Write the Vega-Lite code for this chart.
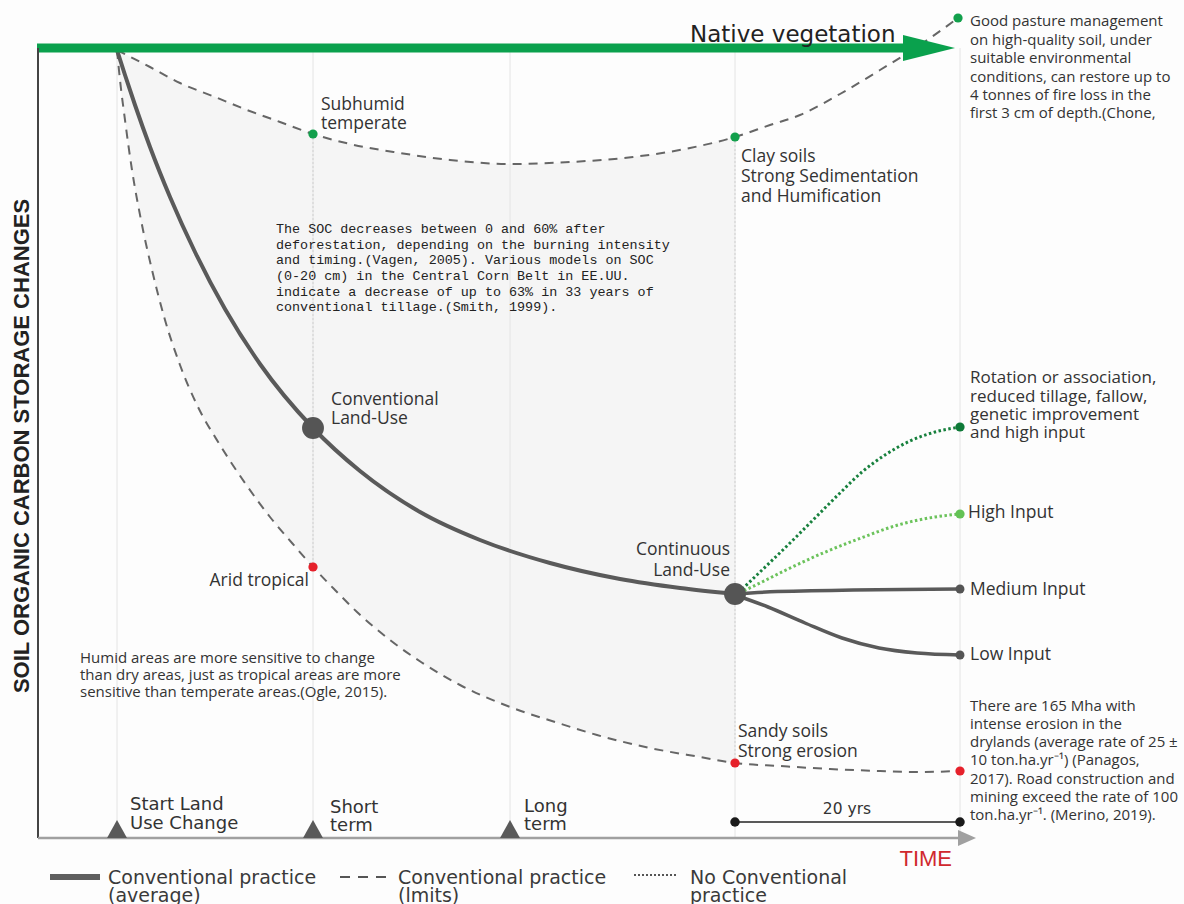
{
  "$schema": "https://vega.github.io/schema/vega-lite/v6.json",
  "width": 1184,
  "height": 904,
  "padding": 0,
  "autosize": {"type": "none"},
  "background": "#fdfdfd",
  "config": {"view": {"stroke": null}},
  "datasets": {
    "shade": [
      {"t": 0, "vu": -0.25, "vl": -0.25}, {"t": 0.3, "vu": -0.4375, "vl": -4}, {"t": 0.8, "vu": -0.75, "vl": -9},
      {"t": 1.5, "vu": -1.1875, "vl": -15.25}, {"t": 2.4, "vu": -1.75, "vl": -21.5}, {"t": 3.5, "vu": -2.5, "vl": -27.75},
      {"t": 4.8, "vu": -3.3125, "vl": -34}, {"t": 6.3, "vu": -4.375, "vl": -39.625}, {"t": 8, "vu": -5.25, "vl": -44.625},
      {"t": 10.3, "vu": -6.375, "vl": -49.625}, {"t": 12.8, "vu": -7.625, "vl": -54.375}, {"t": 15.3, "vu": -8.75, "vl": -58.625},
      {"t": 17.5, "vu": -9.75, "vl": -61.875}, {"t": 19.6, "vu": -10.75, "vl": -64.875}, {"t": 21.8, "vu": -11.5, "vl": -67.75},
      {"t": 24, "vu": -12.1875, "vl": -70.5}, {"t": 27.3, "vu": -12.9375, "vl": -74}, {"t": 30.4, "vu": -13.5, "vl": -76.75},
      {"t": 34.3, "vu": -14.125, "vl": -79.625}, {"t": 39.3, "vu": -14.5, "vl": -82.375}, {"t": 43.8, "vu": -14.375, "vl": -84.25},
      {"t": 48, "vu": -14, "vl": -85.875}, {"t": 53.3, "vu": -13.375, "vl": -87.5}, {"t": 58.3, "vu": -12.25, "vl": -88.625},
      {"t": 61.8, "vu": -11.125, "vl": -89.375}
    ],
    "verts": [
      {"t": 0, "v": 0, "v2": -98.75}, {"t": 19.6, "v": 0, "v2": -98.75}, {"t": 39.3, "v": 0, "v2": -98.75},
      {"t": 61.8, "v": 0, "v2": -98.75}, {"t": 84.3, "v": 0, "v2": -98.75}
    ],
    "vdots": [
      {"t": 19.6, "v": -10.75, "v2": -64.875}, {"t": 61.8, "v": -11.125, "v2": -89.375}
    ],
    "upper": [
      {"t": 0, "v": -0.25}, {"t": 3.3, "v": -2.375}, {"t": 6.3, "v": -4.375}, {"t": 9.8, "v": -6.125},
      {"t": 13, "v": -7.75}, {"t": 16.3, "v": -9.25}, {"t": 19.6, "v": -10.75}, {"t": 23.3, "v": -12},
      {"t": 28.3, "v": -13.125}, {"t": 33.3, "v": -14}, {"t": 39.3, "v": -14.5}, {"t": 45.3, "v": -14.25},
      {"t": 51.6, "v": -13.625}, {"t": 57.3, "v": -12.5}, {"t": 61.8, "v": -11.125}, {"t": 65.3, "v": -9.625},
      {"t": 68.3, "v": -8.375}, {"t": 72.3, "v": -5.75}, {"t": 76.3, "v": -2.75}, {"t": 80.3, "v": 0.375},
      {"t": 84.1, "v": 3.75}
    ],
    "lower": [
      {"t": 0, "v": -0.25}, {"t": 0.3, "v": -4}, {"t": 0.8, "v": -9}, {"t": 1.5, "v": -15.25},
      {"t": 2.4, "v": -21.5}, {"t": 3.5, "v": -27.75}, {"t": 4.8, "v": -34}, {"t": 6.3, "v": -39.625},
      {"t": 8, "v": -44.625}, {"t": 10.3, "v": -49.625}, {"t": 12.8, "v": -54.375}, {"t": 15.3, "v": -58.625},
      {"t": 17.5, "v": -61.875}, {"t": 19.6, "v": -64.875}, {"t": 21.8, "v": -67.75}, {"t": 24, "v": -70.5},
      {"t": 27.3, "v": -74}, {"t": 30.4, "v": -76.75}, {"t": 34.3, "v": -79.625}, {"t": 39.3, "v": -82.375},
      {"t": 43.8, "v": -84.25}, {"t": 48, "v": -85.875}, {"t": 53.3, "v": -87.5}, {"t": 58.3, "v": -88.625},
      {"t": 61.8, "v": -89.375}, {"t": 66.3, "v": -89.75}, {"t": 71.3, "v": -90.125}, {"t": 76.3, "v": -90.375},
      {"t": 80.3, "v": -90.5}, {"t": 84.3, "v": -90.375}
    ],
    "main": [
      {"t": 0, "v": -0.25}, {"t": 0.8, "v": -3.375}, {"t": 1.8, "v": -7.125}, {"t": 3.3, "v": -12.375},
      {"t": 5.3, "v": -18.625}, {"t": 7.8, "v": -25.5}, {"t": 10.8, "v": -32.625}, {"t": 14.3, "v": -39.5},
      {"t": 19.6, "v": -47.5}, {"t": 24.3, "v": -52.875}, {"t": 30.3, "v": -58}, {"t": 36.3, "v": -61.5},
      {"t": 43.3, "v": -64.375}, {"t": 50.3, "v": -66.375}, {"t": 56.3, "v": -67.5}, {"t": 61.8, "v": -68.25}
    ],
    "solidBranches": [
      {"branch": "Medium", "t": 61.8, "v": -68.25}, {"branch": "Medium", "t": 66, "v": -67.95}, {"branch": "Medium", "t": 84.3, "v": -67.625},
      {"branch": "Low", "t": 61.8, "v": -68.375}, {"branch": "Low", "t": 65.1, "v": -69.875}, {"branch": "Low", "t": 68.8, "v": -71.875},
      {"branch": "Low", "t": 72.5, "v": -73.75}, {"branch": "Low", "t": 76.2, "v": -75}, {"branch": "Low", "t": 80, "v": -75.625},
      {"branch": "Low", "t": 84.3, "v": -75.875}
    ],
    "rotation": [
      {"t": 61.8, "v": -68.5}, {"t": 64.3, "v": -65.5}, {"t": 67.3, "v": -61.875}, {"t": 69.8, "v": -58.75},
      {"t": 72.3, "v": -55.625}, {"t": 74.5, "v": -53}, {"t": 76.8, "v": -50.875}, {"t": 79.3, "v": -49.125},
      {"t": 81.8, "v": -48}, {"t": 84.3, "v": -47.375}
    ],
    "high": [
      {"t": 61.8, "v": -68.375}, {"t": 64.3, "v": -66.875}, {"t": 66.9, "v": -65.25}, {"t": 70.6, "v": -63.125},
      {"t": 74.4, "v": -61.25}, {"t": 78.1, "v": -59.625}, {"t": 81.8, "v": -58.625}, {"t": 84.3, "v": -58.25}
    ],
    "greenBar": [{"t": -8, "v": 0, "t2": 79}],
    "greenHead": [{"t": 81.2, "v": 0}],
    "yAxis": [{"t": -7.9, "v": 0, "v2": -98.75}],
    "xAxis": [{"t": -7.9, "v": -98.75, "t2": 84.5}],
    "xHead": [{"t": 85, "v": -98.75}],
    "ticks": [{"t": 0, "v": -97.5}, {"t": 19.6, "v": -97.5}, {"t": 39.3, "v": -97.5}],
    "span": [{"t": 61.8, "v": -96.75, "t2": 84.3}],
    "spanEnds": [{"t": 61.8, "v": -96.75}, {"t": 84.3, "v": -96.75}],
    "legSolid": [{"t": -6.7, "v": -103.625, "t2": -1.7}],
    "legDash": [{"t": 22.3, "v": -103.625, "t2": 27.3}],
    "legDot": [{"t": 51.7, "v": -103.375, "t2": 56.1}],
    "bigNodes": [{"t": 19.6, "v": -47.5}, {"t": 61.8, "v": -68.25}],
    "greenDots": [{"t": 19.6, "v": -10.75}, {"t": 61.8, "v": -11.125}, {"t": 84.1, "v": 3.75}],
    "redDots": [{"t": 19.6, "v": -64.875}, {"t": 61.8, "v": -89.375}, {"t": 84.3, "v": -90.375}],
    "darkGreenEnd": [{"t": 84.3, "v": -47.375}],
    "lightGreenEnd": [{"t": 84.3, "v": -58.25}],
    "grayEnds": [{"t": 84.3, "v": -67.625}, {"t": 84.3, "v": -75.875}],
    "labelsL": [
      {"t": 20.4, "v": -7.75, "label": "Subhumid"},
      {"t": 20.4, "v": -10.125, "label": "temperate"},
      {"t": 62.4, "v": -14.25, "label": "Clay soils"},
      {"t": 62.4, "v": -16.75, "label": "Strong Sedimentation"},
      {"t": 62.4, "v": -19.25, "label": "and Humification"},
      {"t": 21.4, "v": -44.625, "label": "Conventional"},
      {"t": 21.4, "v": -47, "label": "Land-Use"},
      {"t": 85.1, "v": -58.75, "label": "High Input"},
      {"t": 85.3, "v": -68.375, "label": "Medium Input"},
      {"t": 85.3, "v": -76.5, "label": "Low Input"},
      {"t": 62.1, "v": -86.125, "label": "Sandy soils"},
      {"t": 62.1, "v": -88.625, "label": "Strong erosion"}
    ],
    "rotationLabels": [
      {"t": 85.3, "v": -41.875, "label": "Rotation or association,"},
      {"t": 85.3, "v": -44.25, "label": "reduced tillage, fallow,"},
      {"t": 85.3, "v": -46.5, "label": "genetic improvement"},
      {"t": 85.3, "v": -48.75, "label": "and high input"}
    ],
    "labelsR": [
      {"t": 61.3, "v": -63.375, "label": "Continuous"},
      {"t": 61.3, "v": -66, "label": "Land-Use"},
      {"t": 19.2, "v": -67.25, "label": "Arid tropical"}
    ],
    "notes": [
      {"t": 85.3, "v": 2.75, "label": "Good pasture management"},
      {"t": 85.3, "v": 0.375, "label": "on high-quality soil, under"},
      {"t": 85.3, "v": -1.875, "label": "suitable environmental"},
      {"t": 85.3, "v": -4.25, "label": "conditions, can restore up to"},
      {"t": 85.3, "v": -6.5, "label": "4 tonnes of fire loss in the"},
      {"t": 85.3, "v": -8.75, "label": "first 3 cm of depth.(Chone,"},
      {"t": -3.7, "v": -76.875, "label": "Humid areas are more sensitive to change"},
      {"t": -3.7, "v": -79, "label": "than dry areas, just as tropical areas are more"},
      {"t": -3.7, "v": -81.125, "label": "sensitive than temperate areas.(Ogle, 2015)."},
      {"t": 85.3, "v": -82.875, "label": "There are 165 Mha with"},
      {"t": 85.3, "v": -85.125, "label": "intense erosion in the"},
      {"t": 85.3, "v": -87.375, "label": "drylands (average rate of 25 ±"},
      {"t": 85.3, "v": -89.625, "label": "10 ton.ha.yr⁻¹) (Panagos,"},
      {"t": 85.3, "v": -92, "label": "2017). Road construction and"},
      {"t": 85.3, "v": -94.25, "label": "mining exceed the rate of 100"},
      {"t": 85.3, "v": -96.5, "label": "ton.ha.yr⁻¹. (Merino, 2019)."}
    ],
    "mono": [
      {"t": 15.9, "v": -23.125, "label": "The SOC decreases between 0 and 60% after"},
      {"t": 15.9, "v": -25.125, "label": "deforestation, depending on the burning intensity"},
      {"t": 15.9, "v": -27, "label": "and timing.(Vagen, 2005). Various models on SOC"},
      {"t": 15.9, "v": -29, "label": "(0-20 cm) in the Central Corn Belt in EE.UU."},
      {"t": 15.9, "v": -31, "label": "indicate a decrease of up to 63% in 33 years of"},
      {"t": 15.9, "v": -32.875, "label": "conventional tillage.(Smith, 1999)."}
    ],
    "tickLabels": [
      {"t": 1.3, "v": -95.25, "label": "Start Land"},
      {"t": 1.3, "v": -97.625, "label": "Use Change"},
      {"t": 21.3, "v": -95.625, "label": "Short"},
      {"t": 21.3, "v": -97.875, "label": "term"},
      {"t": 40.7, "v": -95.5, "label": "Long"},
      {"t": 40.7, "v": -97.75, "label": "term"}
    ],
    "legendLabels": [
      {"t": -0.9, "v": -104.5, "label": "Conventional practice"},
      {"t": -0.9, "v": -106.75, "label": "(average)"},
      {"t": 28.1, "v": -104.5, "label": "Conventional practice"},
      {"t": 28.1, "v": -106.75, "label": "(lmits)"},
      {"t": 57.3, "v": -104.5, "label": "No  Conventional"},
      {"t": 57.3, "v": -106.75, "label": "practice"}
    ],
    "native": [{"t": 57.3, "v": 0.75, "label": "Native vegetation"}],
    "yrs": [{"t": 73, "v": -95.75, "label": "20 yrs"}],
    "time": [{"t": 83.5, "v": -102.25, "label": "TIME"}],
    "ytitle": [{"t": -9.5, "v": -49.75, "label": "SOIL ORGANIC CARBON STORAGE CHANGES"}]
  },
  "encoding": {
    "x": {"field": "t", "type": "quantitative", "scale": {"domain": [-11.7, 106.7], "nice": false, "zero": false}, "axis": null},
    "y": {"field": "v", "type": "quantitative", "scale": {"domain": [-107, 6], "nice": false, "zero": false}, "axis": null}
  },
  "layer": [
    {
      "data": {"name": "shade"},
      "mark": {"type": "area", "color": "#f5f5f5", "interpolate": "monotone"},
      "encoding": {
        "y": {"field": "vu", "type": "quantitative", "scale": {"domain": [-107, 6], "nice": false, "zero": false}, "axis": null},
        "y2": {"field": "vl"}
      }
    },
    {
      "data": {"name": "verts"},
      "mark": {"type": "rule", "color": "#e4e4e4", "strokeWidth": 1},
      "encoding": {"y2": {"field": "v2"}}
    },
    {
      "data": {"name": "vdots"},
      "mark": {"type": "rule", "color": "#cfcfcf", "strokeWidth": 1, "strokeDash": [2, 2]},
      "encoding": {"y2": {"field": "v2"}}
    },
    {
      "data": {"name": "upper"},
      "mark": {"type": "line", "color": "#666666", "strokeWidth": 2, "strokeDash": [9, 7], "interpolate": "monotone"},
      "encoding": {}
    },
    {
      "data": {"name": "lower"},
      "mark": {"type": "line", "color": "#666666", "strokeWidth": 2, "strokeDash": [9, 7], "interpolate": "monotone"},
      "encoding": {}
    },
    {
      "data": {"name": "main"},
      "mark": {"type": "line", "color": "#5a5a5a", "strokeWidth": 4, "interpolate": "monotone"},
      "encoding": {}
    },
    {
      "data": {"name": "solidBranches"},
      "mark": {"type": "line", "color": "#5a5a5a", "strokeWidth": 3.5, "interpolate": "monotone"},
      "encoding": {"detail": {"field": "branch", "type": "nominal"}}
    },
    {
      "data": {"name": "rotation"},
      "mark": {"type": "line", "color": "#17803d", "strokeWidth": 3, "strokeDash": [2.5, 2.5], "interpolate": "monotone"},
      "encoding": {}
    },
    {
      "data": {"name": "high"},
      "mark": {"type": "line", "color": "#6cc35c", "strokeWidth": 3, "strokeDash": [2.5, 2.5], "interpolate": "monotone"},
      "encoding": {}
    },
    {
      "data": {"name": "greenBar"},
      "mark": {"type": "rule", "color": "#0aa14d", "strokeWidth": 9},
      "encoding": {"x2": {"field": "t2"}}
    },
    {
      "data": {"name": "greenHead"},
      "mark": {"type": "point", "shape": "M-1,-0.5L1,0L-1,0.5Z", "size": 2704, "filled": true, "opacity": 1, "color": "#0aa14d", "strokeWidth": 0},
      "encoding": {}
    },
    {
      "data": {"name": "yAxis"},
      "mark": {"type": "rule", "color": "#444444", "strokeWidth": 2},
      "encoding": {"y2": {"field": "v2"}}
    },
    {
      "data": {"name": "xAxis"},
      "mark": {"type": "rule", "color": "#a0a0a0", "strokeWidth": 2.5},
      "encoding": {"x2": {"field": "t2"}}
    },
    {
      "data": {"name": "xHead"},
      "mark": {"type": "point", "shape": "M-1,-0.9L1,0L-1,0.9Z", "size": 324, "filled": true, "opacity": 1, "color": "#a0a0a0", "strokeWidth": 0},
      "encoding": {}
    },
    {
      "data": {"name": "ticks"},
      "mark": {"type": "point", "shape": "M-1,1L0,-0.8L1,1Z", "size": 400, "filled": true, "opacity": 1, "color": "#5a5a5a", "strokeWidth": 0},
      "encoding": {}
    },
    {
      "data": {"name": "span"},
      "mark": {"type": "rule", "color": "#222222", "strokeWidth": 1.5},
      "encoding": {"x2": {"field": "t2"}}
    },
    {
      "data": {"name": "spanEnds"},
      "mark": {"type": "point", "shape": "circle", "size": 90, "filled": true, "opacity": 1, "color": "#1a1a1a", "strokeWidth": 0},
      "encoding": {}
    },
    {
      "data": {"name": "legSolid"},
      "mark": {"type": "rule", "color": "#5f5f5f", "strokeWidth": 6},
      "encoding": {"x2": {"field": "t2"}}
    },
    {
      "data": {"name": "legDash"},
      "mark": {"type": "rule", "color": "#555555", "strokeWidth": 2, "strokeDash": [10, 8]},
      "encoding": {"x2": {"field": "t2"}}
    },
    {
      "data": {"name": "legDot"},
      "mark": {"type": "rule", "color": "#555555", "strokeWidth": 2, "strokeDash": [2, 2]},
      "encoding": {"x2": {"field": "t2"}}
    },
    {
      "data": {"name": "bigNodes"},
      "mark": {"type": "point", "shape": "circle", "size": 480, "filled": true, "opacity": 1, "color": "#555555", "strokeWidth": 0},
      "encoding": {}
    },
    {
      "data": {"name": "greenDots"},
      "mark": {"type": "point", "shape": "circle", "size": 85, "filled": true, "opacity": 1, "color": "#12a04c", "strokeWidth": 0},
      "encoding": {}
    },
    {
      "data": {"name": "redDots"},
      "mark": {"type": "point", "shape": "circle", "size": 85, "filled": true, "opacity": 1, "color": "#e6212b", "strokeWidth": 0},
      "encoding": {}
    },
    {
      "data": {"name": "darkGreenEnd"},
      "mark": {"type": "point", "shape": "circle", "size": 85, "filled": true, "opacity": 1, "color": "#0e7a38", "strokeWidth": 0},
      "encoding": {}
    },
    {
      "data": {"name": "lightGreenEnd"},
      "mark": {"type": "point", "shape": "circle", "size": 85, "filled": true, "opacity": 1, "color": "#63c255", "strokeWidth": 0},
      "encoding": {}
    },
    {
      "data": {"name": "grayEnds"},
      "mark": {"type": "point", "shape": "circle", "size": 80, "filled": true, "opacity": 1, "color": "#555555", "strokeWidth": 0},
      "encoding": {}
    },
    {
      "data": {"name": "labelsL"},
      "mark": {"type": "text", "font": "Open Sans", "fontSize": 17.5, "color": "#333333", "align": "left", "baseline": "alphabetic"},
      "encoding": {"text": {"field": "label", "type": "nominal"}}
    },
    {
      "data": {"name": "rotationLabels"},
      "mark": {"type": "text", "font": "Open Sans", "fontSize": 17, "color": "#333333", "align": "left", "baseline": "alphabetic"},
      "encoding": {"text": {"field": "label", "type": "nominal"}}
    },
    {
      "data": {"name": "labelsR"},
      "mark": {"type": "text", "font": "Open Sans", "fontSize": 17.5, "color": "#333333", "align": "right", "baseline": "alphabetic"},
      "encoding": {"text": {"field": "label", "type": "nominal"}}
    },
    {
      "data": {"name": "notes"},
      "mark": {"type": "text", "font": "Open Sans", "fontSize": 15, "color": "#333333", "align": "left", "baseline": "alphabetic"},
      "encoding": {"text": {"field": "label", "type": "nominal"}}
    },
    {
      "data": {"name": "mono"},
      "mark": {"type": "text", "font": "Liberation Mono", "fontSize": 13.4, "color": "#222222", "align": "left", "baseline": "alphabetic"},
      "encoding": {"text": {"field": "label", "type": "nominal"}}
    },
    {
      "data": {"name": "tickLabels"},
      "mark": {"type": "text", "font": "DejaVu Sans", "fontSize": 18, "color": "#333333", "align": "left", "baseline": "alphabetic"},
      "encoding": {"text": {"field": "label", "type": "nominal"}}
    },
    {
      "data": {"name": "legendLabels"},
      "mark": {"type": "text", "font": "DejaVu Sans", "fontSize": 19, "color": "#3a3a3a", "align": "left", "baseline": "alphabetic"},
      "encoding": {"text": {"field": "label", "type": "nominal"}}
    },
    {
      "data": {"name": "native"},
      "mark": {"type": "text", "font": "DejaVu Sans", "fontSize": 23, "color": "#222222", "align": "left", "baseline": "alphabetic"},
      "encoding": {"text": {"field": "label", "type": "nominal"}}
    },
    {
      "data": {"name": "yrs"},
      "mark": {"type": "text", "font": "DejaVu Sans", "fontSize": 15.5, "color": "#333333", "align": "center", "baseline": "alphabetic"},
      "encoding": {"text": {"field": "label", "type": "nominal"}}
    },
    {
      "data": {"name": "time"},
      "mark": {"type": "text", "font": "Liberation Sans", "fontSize": 22, "color": "#d0282e", "align": "right", "baseline": "alphabetic"},
      "encoding": {"text": {"field": "label", "type": "nominal"}}
    },
    {
      "data": {"name": "ytitle"},
      "mark": {"type": "text", "font": "Liberation Sans", "fontSize": 22, "fontWeight": "bold", "color": "#222222", "align": "center", "baseline": "middle", "angle": 270},
      "encoding": {"text": {"field": "label", "type": "nominal"}}
    }
  ]
}
